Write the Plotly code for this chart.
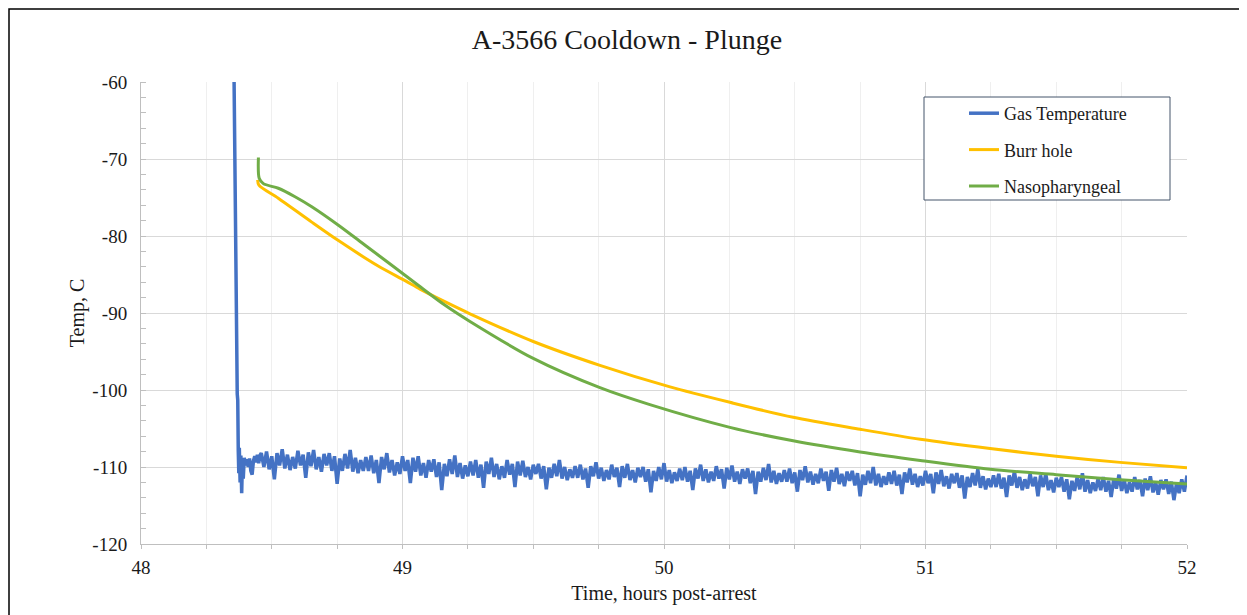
import plotly.graph_objects as go

# ---------------- data ----------------
gas_time = [
    48.356, 48.368, 48.370, 48.372, 48.374, 48.376, 48.379, 48.382, 48.385, 48.388,
    48.391, 48.395, 48.400, 48.405, 48.410, 48.415, 48.420, 48.425, 48.430, 48.435,
    48.440, 48.445, 48.450, 48.455,
    48.46, 48.47, 48.48, 48.49, 48.50, 48.51, 48.52, 48.53, 48.54, 48.55,
    48.56, 48.57, 48.58, 48.59, 48.60, 48.61, 48.62, 48.63, 48.64, 48.65,
    48.66, 48.67, 48.68, 48.69, 48.70, 48.71, 48.72, 48.73, 48.74, 48.75,
    48.76, 48.77, 48.78, 48.79, 48.80, 48.81, 48.82, 48.83, 48.84, 48.85,
    48.86, 48.87, 48.88, 48.89, 48.90, 48.91, 48.92, 48.93, 48.94, 48.95,
    48.96, 48.97, 48.98, 48.99, 49.00, 49.01, 49.02, 49.03, 49.04, 49.05,
    49.06, 49.07, 49.08, 49.09, 49.10, 49.11, 49.12, 49.13, 49.14, 49.15,
    49.16, 49.17, 49.18, 49.19, 49.20, 49.21, 49.22, 49.23, 49.24, 49.25,
    49.26, 49.27, 49.28, 49.29, 49.30, 49.31, 49.32, 49.33, 49.34, 49.35,
    49.36, 49.37, 49.38, 49.39, 49.40, 49.41, 49.42, 49.43, 49.44, 49.45,
    49.46, 49.47, 49.48, 49.49, 49.50, 49.51, 49.52, 49.53, 49.54, 49.55,
    49.56, 49.57, 49.58, 49.59, 49.60, 49.61, 49.62, 49.63, 49.64, 49.65,
    49.66, 49.67, 49.68, 49.69, 49.70, 49.71, 49.72, 49.73, 49.74, 49.75,
    49.76, 49.77, 49.78, 49.79, 49.80, 49.81, 49.82, 49.83, 49.84, 49.85,
    49.86, 49.87, 49.88, 49.89, 49.90, 49.91, 49.92, 49.93, 49.94, 49.95,
    49.96, 49.97, 49.98, 49.99, 50.00, 50.01, 50.02, 50.03, 50.04, 50.05,
    50.06, 50.07, 50.08, 50.09, 50.10, 50.11, 50.12, 50.13, 50.14, 50.15,
    50.16, 50.17, 50.18, 50.19, 50.20, 50.21, 50.22, 50.23, 50.24, 50.25,
    50.26, 50.27, 50.28, 50.29, 50.30, 50.31, 50.32, 50.33, 50.34, 50.35,
    50.36, 50.37, 50.38, 50.39, 50.40, 50.41, 50.42, 50.43, 50.44, 50.45,
    50.46, 50.47, 50.48, 50.49, 50.50, 50.51, 50.52, 50.53, 50.54, 50.55,
    50.56, 50.57, 50.58, 50.59, 50.60, 50.61, 50.62, 50.63, 50.64, 50.65,
    50.66, 50.67, 50.68, 50.69, 50.70, 50.71, 50.72, 50.73, 50.74, 50.75,
    50.76, 50.77, 50.78, 50.79, 50.80, 50.81, 50.82, 50.83, 50.84, 50.85,
    50.86, 50.87, 50.88, 50.89, 50.90, 50.91, 50.92, 50.93, 50.94, 50.95,
    50.96, 50.97, 50.98, 50.99, 51.00, 51.01, 51.02, 51.03, 51.04, 51.05,
    51.06, 51.07, 51.08, 51.09, 51.10, 51.11, 51.12, 51.13, 51.14, 51.15,
    51.16, 51.17, 51.18, 51.19, 51.20, 51.21, 51.22, 51.23, 51.24, 51.25,
    51.26, 51.27, 51.28, 51.29, 51.30, 51.31, 51.32, 51.33, 51.34, 51.35,
    51.36, 51.37, 51.38, 51.39, 51.40, 51.41, 51.42, 51.43, 51.44, 51.45,
    51.46, 51.47, 51.48, 51.49, 51.50, 51.51, 51.52, 51.53, 51.54, 51.55,
    51.56, 51.57, 51.58, 51.59, 51.60, 51.61, 51.62, 51.63, 51.64, 51.65,
    51.66, 51.67, 51.68, 51.69, 51.70, 51.71, 51.72, 51.73, 51.74, 51.75,
    51.76, 51.77, 51.78, 51.79, 51.80, 51.81, 51.82, 51.83, 51.84, 51.85,
    51.86, 51.87, 51.88, 51.89, 51.90, 51.91, 51.92, 51.93, 51.94, 51.95,
    51.96, 51.97, 51.98, 51.99, 52.00,
]
gas_temp = [
    -60.0, -100.5, -101.3, -108.0, -110.8, -107.5, -112.0, -108.5, -113.4, -109.0,
    -111.5, -108.8, -109.8, -109.0, -110.0, -108.9, -110.5, -111.0, -109.2, -108.6,
    -109.4, -108.4, -109.5, -108.5,
    -108.2, -110.0, -108.0, -110.3, -108.6, -111.6, -108.2, -109.8, -107.7, -110.2,
    -108.4, -110.4, -108.7, -110.2, -107.9, -109.8, -108.4, -111.4, -108.1, -109.9,
    -107.8, -110.3, -108.7, -110.6, -108.3, -109.8, -108.2, -110.5, -108.6, -112.2,
    -108.9, -110.5, -108.3, -110.2, -107.8, -110.6, -108.8, -110.8, -109.1, -110.5,
    -108.7, -110.5, -108.5, -110.8, -109.1, -112.1, -108.7, -110.3, -108.2, -110.7,
    -109.1, -111.1, -109.4, -110.9, -108.6, -110.5, -109.1, -112.1, -108.8, -110.6,
    -108.6, -111.1, -109.5, -111.4, -109.1, -110.6, -109.0, -111.3, -109.4, -113.0,
    -109.6, -111.2, -109.0, -110.9, -108.5, -111.3, -109.5, -111.5, -109.8, -111.2,
    -109.3, -111.1, -109.1, -111.4, -109.7, -112.7, -109.3, -110.9, -108.8, -111.3,
    -109.6, -111.6, -109.9, -111.4, -109.1, -111.0, -109.6, -112.6, -109.3, -111.1,
    -109.2, -111.3, -110.0, -111.6, -109.7, -110.9, -109.6, -111.5, -109.9, -112.9,
    -110.1, -111.4, -109.6, -111.2, -109.1, -111.5, -110.0, -111.7, -110.3, -111.4,
    -109.9, -111.4, -109.7, -111.6, -110.2, -112.7, -109.9, -111.2, -109.4, -111.5,
    -110.1, -111.8, -110.4, -111.6, -109.7, -111.3, -110.1, -112.6, -109.9, -111.4,
    -109.6, -111.7, -110.4, -112.0, -110.1, -111.3, -110.0, -111.9, -110.3, -113.3,
    -110.5, -111.8, -110.0, -111.6, -109.5, -111.9, -110.4, -112.1, -110.7, -111.8,
    -110.2, -111.7, -110.0, -111.9, -110.5, -113.0, -110.2, -111.5, -109.7, -111.8,
    -110.3, -112.0, -110.6, -111.8, -109.9, -111.5, -110.3, -112.8, -110.1, -111.6,
    -109.8, -111.9, -110.6, -112.2, -110.3, -111.5, -110.2, -112.1, -110.5, -113.5,
    -110.6, -111.9, -110.1, -111.7, -109.6, -112.0, -110.5, -112.2, -110.8, -111.9,
    -110.4, -111.9, -110.2, -112.1, -110.7, -113.2, -110.4, -111.7, -109.9, -112.0,
    -110.6, -112.3, -110.9, -112.1, -110.2, -111.8, -110.6, -113.1, -110.4, -111.9,
    -110.1, -112.2, -110.9, -112.5, -110.6, -111.8, -110.5, -112.4, -110.8, -113.8,
    -111.0, -112.3, -110.5, -112.1, -110.0, -112.4, -110.9, -112.6, -111.2, -112.3,
    -110.7, -112.2, -110.5, -112.4, -111.0, -113.5, -110.7, -112.0, -110.2, -112.3,
    -110.9, -112.6, -111.2, -112.4, -110.5, -112.1, -110.9, -113.4, -110.7, -112.2,
    -110.4, -112.5, -111.2, -112.8, -110.9, -112.1, -110.8, -112.7, -111.1, -114.1,
    -111.3, -112.6, -110.8, -112.4, -110.3, -112.7, -111.2, -112.9, -111.5, -112.6,
    -111.1, -112.6, -110.9, -112.8, -111.4, -113.9, -111.1, -112.4, -110.6, -112.7,
    -111.3, -113.0, -111.6, -112.8, -110.9, -112.5, -111.3, -113.8, -111.1, -112.6,
    -110.9, -113.0, -111.7, -113.3, -111.4, -112.6, -111.3, -113.2, -111.6, -114.2,
    -111.8, -113.1, -111.3, -112.9, -110.8, -113.2, -111.7, -113.4, -112.0, -113.1,
    -111.5, -113.0, -111.3, -113.2, -111.8, -113.9, -111.5, -112.8, -111.0, -113.1,
    -111.7, -113.4, -112.0, -113.2, -111.3, -112.9, -111.7, -113.8, -111.5, -113.0,
    -111.2, -113.3, -112.0, -113.6, -111.7, -112.9, -111.6, -113.5, -111.9, -114.3,
    -112.1, -113.4, -111.6, -113.2, -111.1,
]

burr_time = [48.446, 48.451, 48.525, 48.653, 48.755, 48.907, 49.010, 49.067, 49.160,
             49.258, 49.500, 49.755, 50.023, 50.252, 50.494, 50.750, 50.980, 51.247,
             51.500, 51.744, 52.000]
burr_temp = [-72.7, -73.4, -75.1, -78.2, -80.6, -83.9, -85.8, -86.9, -88.5,
             -90.1, -93.7, -96.8, -99.6, -101.6, -103.55, -105.1, -106.4, -107.6,
             -108.6, -109.4, -110.1]

naso_time = [48.449, 48.452, 48.468, 48.525, 48.589, 48.653, 48.755, 48.857, 48.959,
             49.060, 49.163, 49.258, 49.500, 49.755, 49.946, 50.252, 50.494,
             50.750, 50.980, 51.247, 51.500, 51.744, 52.000]
naso_temp = [-69.8, -72.5, -73.2, -73.8, -74.9, -76.2, -78.6, -81.2, -83.8,
             -86.4, -89.0, -91.1, -95.9, -99.7, -101.9, -104.85, -106.6,
             -108.05, -109.15, -110.3, -111.0, -111.65, -112.2]

series_names = ["Gas Temperature", "Burr hole", "Nasopharyngeal"]
x_ticks = [48, 49, 50, 51, 52]
y_ticks = [-120, -110, -100, -90, -80, -70, -60]
y_tick_text = ["-120", "-110", "-100", "-90", "-80", "-70", "-60"]

# ---------------- figure ----------------
FONT = "Liberation Serif, Times New Roman, serif"
TXT = "#1a1a1a"
colors = ["#4472C4", "#FFC000", "#70AD47"]

fig = go.Figure()
for name, xs, ys, c in zip(series_names,
                           [gas_time, burr_time, naso_time],
                           [gas_temp, burr_temp, naso_temp], colors):
    if name == "Gas Temperature":
        ln = dict(color=c, width=3.5, simplify=False)
    else:
        ln = dict(color=c, width=3, shape="spline", smoothing=0.8)
    fig.add_trace(go.Scatter(x=xs, y=ys, mode="lines", name=name,
                             legendgroup=name, line=ln))

W, H = 1247, 615
OFF = 8  # page body offset of the figure
# plot area in page pixels
PL, PR, PT, PB = 141, 1187, 82, 544
L, T = PL - OFF, PT - OFF
R = W - (PR - OFF)
B = H - (PB - OFF)
pw, ph = PR - PL, PB - PT

def px(xp):  # page x -> paper
    return (xp - PL) / pw

def py(yp):  # page y -> paper
    return (PB - yp) / ph

fig.update_layout(
    width=W, height=H,
    margin=dict(l=L, r=R, t=T, b=B, autoexpand=False),
    paper_bgcolor="white", plot_bgcolor="white",
    font=dict(family=FONT, color=TXT, size=18),
    title=dict(text="A-3566 Cooldown - Plunge", x=(627 - OFF) / W, xref="container",
               xanchor="center", y=1 - (39 - OFF) / H, yref="container",
               yanchor="middle",
               font=dict(size=28, family=FONT, color=TXT)),
    xaxis=dict(range=[48, 52], tickvals=x_ticks, showgrid=True, gridcolor="#d9d9d9",
               gridwidth=1, zeroline=False, showline=True, linecolor="#bfbfbf",
               linewidth=1, ticks="", ticklabelstandoff=6,
               tickfont=dict(size=19, family=FONT, color=TXT),
               title=dict(text="Time, hours post-arrest", standoff=9,
                          font=dict(size=20, family=FONT, color=TXT)),
               minor=dict(dtick=0.25, showgrid=True, gridcolor="#efefef", gridwidth=1,
                          ticks="outside", ticklen=4, tickcolor="#bfbfbf")),
    yaxis=dict(range=[-120, -60], tickvals=y_ticks, ticktext=y_tick_text,
               showgrid=True, gridcolor="#d9d9d9",
               gridwidth=1, zeroline=False, showline=True, linecolor="#bfbfbf",
               linewidth=1, ticks="", ticklabelstandoff=9,
               tickfont=dict(size=19, family=FONT, color=TXT),
               title=dict(text="Temp, C", standoff=2,
                          font=dict(size=20, family=FONT, color=TXT)),
               minor=dict(dtick=2, showgrid=False, ticks="inside", ticklen=5,
                          tickcolor="#bfbfbf")),
    legend=dict(x=px(964), y=py(95), xanchor="left", yanchor="top",
                bgcolor="rgba(0,0,0,0)", borderwidth=0,
                font=dict(size=18, family=FONT, color=TXT),
                tracegroupgap=10),
    showlegend=True,
    shapes=[
        dict(type="rect", xref="paper", yref="paper",
             x0=px(924), x1=px(1170), y0=py(200), y1=py(97),
             line=dict(color="#44546A", width=1), fillcolor="white", layer="above"),
        dict(type="rect", xref="paper", yref="paper",
             x0=px(OFF + 1), x1=px(1241), y0=py(660), y1=py(OFF + 1),
             line=dict(color="black", width=1.5), fillcolor="rgba(0,0,0,0)",
             layer="above"),
    ],
)

fig.write_html("out.html")
